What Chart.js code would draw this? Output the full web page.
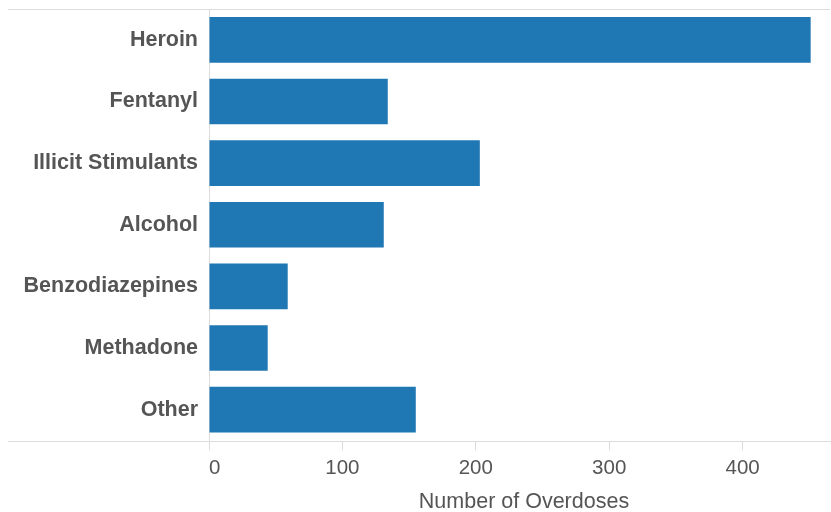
<!DOCTYPE html>
<html>
<head>
<meta charset="utf-8">
<script src="https://cdn.jsdelivr.net/npm/chart.js@4/dist/chart.umd.min.js"></script>
<style>
  html, body { margin: 0; padding: 0; background: #fff; }
  #wrap { width: 831px; height: 512px; position: relative; }
</style>
</head>
<body>
<div id="wrap"><canvas id="chart"></canvas></div>
<script>
// data
const substances = ['Heroin', 'Fentanyl', 'Illicit Stimulants', 'Alcohol', 'Benzodiazepines', 'Methadone', 'Other'];
const overdoses  = [451, 134, 203, 131, 59, 44, 155];
const xTicks     = [0, 100, 200, 300, 400];
const xMax       = 452;
const xTitle     = 'Number of Overdoses';

const LINE  = '#dcdcdc';
const TEXT  = '#555555';
const FONT  = '"Liberation Sans", Arial, Helvetica, sans-serif';

// frame lines that run past the plot area, plus the offset axis title
const framePlugin = {
    id: 'frame',
    afterDraw(chart) {
        const {ctx, chartArea, width} = chart;
        ctx.save();
        ctx.strokeStyle = LINE;
        ctx.lineWidth   = 1;
        ctx.beginPath();
        ctx.moveTo(8, Math.round(chartArea.top) + 0.5);
        ctx.lineTo(width - 1, Math.round(chartArea.top) + 0.5);
        ctx.moveTo(8, Math.round(chartArea.bottom) + 0.5);
        ctx.lineTo(width, Math.round(chartArea.bottom) + 0.5);
        ctx.stroke();

        ctx.fillStyle    = TEXT;
        ctx.font         = '21.5px ' + FONT;
        ctx.textAlign    = 'center';
        ctx.textBaseline = 'middle';
        ctx.fillText(xTitle, chartArea.left + 315, 502);
        ctx.restore();
    }
};

new Chart(document.getElementById('chart'), {
    type: 'bar',
    data: {
        labels: substances,
        datasets: [{
            data: overdoses,
            backgroundColor: '#1f77b4',
            borderWidth: 0,
            barPercentage: 0.74,
            categoryPercentage: 1
        }]
    },
    options: {
        indexAxis: 'y',
        responsive: true,
        maintainAspectRatio: false,
        animation: false,
        layout: {padding: {top: 9, right: 19, left: 0, bottom: 0}},
        plugins: {
            legend : {display: false},
            tooltip: {enabled: false}
        },
        scales: {
            x: {
                min: 0,
                max: xMax,
                afterBuildTicks: axis => {
                    // last (blank) tick lets 'inner' align keep only "0" flush-left
                    axis.ticks = xTicks.concat([xMax]).map(v => ({value: v}));
                },
                afterFit: axis => {
                    axis.height = 71.5;
                    axis.paddingLeft = 0;
                    axis.paddingRight = 0;
                },
                border: {display: false},
                grid: {
                    drawOnChartArea: false,
                    drawTicks: true,
                    tickLength: 10,
                    color: c => (c.tick && c.tick.value === xMax) ? 'rgba(0,0,0,0)' : LINE
                },
                ticks: {
                    align: 'inner',
                    padding: 6,
                    color: TEXT,
                    font: {family: FONT, size: 20.5},
                    callback: v => (v === xMax ? '' : String(v))
                }
            },
            y: {
                afterFit: axis => {
                    axis.width = 209;
                    axis.paddingTop = 0;
                    axis.paddingBottom = 0;
                },
                border: {display: true, color: LINE, width: 1},
                grid: {display: false, drawTicks: false},
                ticks: {
                    padding: 11,
                    color: TEXT,
                    font: {family: FONT, size: 21.5, weight: 'bold'}
                }
            }
        }
    },
    plugins: [framePlugin]
});
</script>
</body>
</html>
